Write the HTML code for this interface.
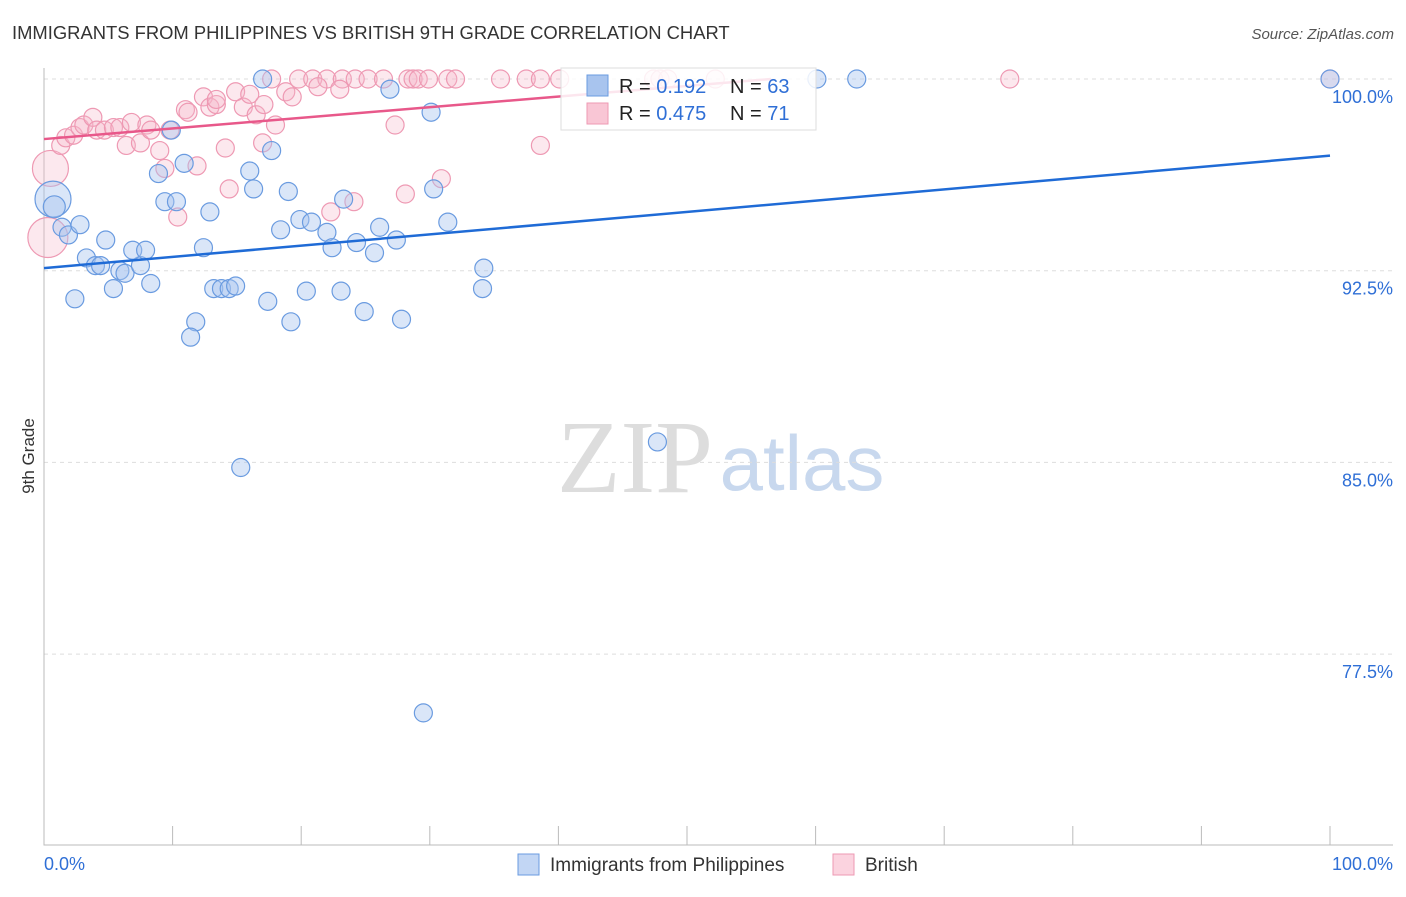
<!DOCTYPE html>
<html><head><meta charset="utf-8"><style>
body{margin:0;background:#fff;font-family:"Liberation Sans",sans-serif}
</style></head><body>
<svg id="c" width="1406" height="892" xmlns="http://www.w3.org/2000/svg" font-family="Liberation Sans, sans-serif">
<text x="12" y="39" font-size="18.4" fill="#333">IMMIGRANTS FROM PHILIPPINES VS BRITISH 9TH GRADE CORRELATION CHART</text>
<text x="1394" y="39" font-size="15" fill="#555" text-anchor="end" font-style="italic">Source: ZipAtlas.com</text>
<text x="34" y="456" font-size="17" fill="#333" text-anchor="middle" transform="rotate(-90 34 456)">9th Grade</text>
<g><text x="635" y="492" font-size="104" fill="#ddd" text-anchor="middle" font-family="Liberation Serif, serif">ZIP</text><text x="802" y="490" font-size="78" fill="#c8d8ee" text-anchor="middle">atlas</text></g>
<g id="grid"></g><g id="pts"></g><g id="lines"></g>
<g>
<rect x="561" y="68" width="255" height="62" fill="#fff" fill-opacity="0.85" stroke="#ddd"/>
<rect x="587" y="75" width="21" height="21" fill="#a8c4ee" stroke="#6a9be0"/>
<rect x="587" y="103" width="21" height="21" fill="#f9c6d5" stroke="#ee99b3"/>
<text x="619" y="93" font-size="20" fill="#222">R = <tspan fill="#2f6fd6">0.192</tspan><tspan x="730">N = </tspan><tspan fill="#2f6fd6">63</tspan></text>
<text x="619" y="120" font-size="20" fill="#222">R = <tspan fill="#2f6fd6">0.475</tspan><tspan x="730">N = </tspan><tspan fill="#2f6fd6"> 71</tspan></text>
</g>
<g>
<rect x="518" y="854" width="21" height="21" fill="#c2d6f4" stroke="#6a9be0"/>
<text x="550" y="871" font-size="19" fill="#333">Immigrants from Philippines</text>
<rect x="833" y="854" width="21" height="21" fill="#fbd3df" stroke="#ee99b3"/>
<text x="865" y="871" font-size="19" fill="#333">British</text>
</g>
</svg>
<script>
const yTicks=[100,92.5,85,77.5];
const yTickLabels=["100.0%","92.5%","85.0%","77.5%"];
const xTickLabels=["0.0%","100.0%"];
const blueX=[0.7,0.8,1.4,1.9,2.8,4.8,3.3,4.0,4.4,5.9,6.3,7.5,6.9,7.9,5.4,2.4,8.3,8.9,10.9,9.9,9.4,10.3,12.9,12.4,13.2,13.8,14.4,14.9,11.8,11.4,15.3,16.0,16.3,17.7,17.0,17.4,18.4,19.0,19.2,19.9,20.4,20.8,22.0,22.4,23.1,23.3,24.3,24.9,25.7,26.1,26.9,27.4,27.8,30.1,30.3,31.4,34.2,34.1,29.5,47.7,60.1,63.2,100];
const blueY=[95.3,95.0,94.2,93.9,94.3,93.7,93.0,92.7,92.7,92.5,92.4,92.7,93.3,93.3,91.8,91.4,92.0,96.3,96.7,98.0,95.2,95.2,94.8,93.4,91.8,91.8,91.8,91.9,90.5,89.9,84.8,96.4,95.7,97.2,100,91.3,94.1,95.6,90.5,94.5,91.7,94.4,94.0,93.4,91.7,95.3,93.6,90.9,93.2,94.2,99.6,93.7,90.6,98.7,95.7,94.4,92.6,91.8,75.2,85.8,100,100,100];
const blueR=[18,11,9,9,9,9,9,9,9,9,9,9,9,9,9,9,9,9,9,9,9,9,9,9,9,9,9,9,9,9,9,9,9,9,9,9,9,9,9,9,9,9,9,9,9,9,9,9,9,9,9,9,9,9,9,9,9,9,9,9,9,9,9];
const pinkX=[0.5,0.3,1.3,1.7,2.3,2.8,3.1,3.8,4.1,4.7,5.4,5.9,6.4,6.8,7.5,8.0,8.3,9.0,9.4,10.4,11.0,11.2,11.9,12.4,12.9,13.4,14.1,14.4,14.9,15.5,16.0,16.5,17.0,17.7,18.0,18.8,19.3,19.8,20.9,22.0,22.3,23.2,23.0,24.2,24.1,25.2,26.4,27.3,28.1,28.3,28.7,29.1,29.9,30.9,31.4,32.0,35.5,37.5,38.6,38.6,40.1,47.4,47.9,48.5,52.2,75.1,100,9.8,13.4,17.1,21.3];
const pinkY=[96.5,93.8,97.4,97.7,97.8,98.1,98.2,98.5,98.0,98.0,98.1,98.1,97.4,98.3,97.5,98.2,98.0,97.2,96.5,94.6,98.8,98.7,96.6,99.3,98.9,99.0,97.3,95.7,99.5,98.9,99.4,98.6,97.5,100,98.2,99.5,99.3,100,100,100,94.8,100,99.6,100,95.2,100,100,98.2,95.5,100,100,100,100,96.1,100,100,100,100,100,97.4,100,100,100,100,100,100,100,98.0,99.2,99.0,99.7];
const pinkR=[18,20,9,9,9,9,9,9,9,9,9,9,9,9,9,9,9,9,9,9,9,9,9,9,9,9,9,9,9,9,9,9,9,9,9,9,9,9,9,9,9,9,9,9,9,9,9,9,9,9,9,9,9,9,9,9,9,9,9,9,9,9,9,9,9,9,9,9,9,9,9];
const blueLine=[92.6,97.0];
const pinkLine=[97.65,0.475];
const NS="http://www.w3.org/2000/svg";
const X=v=>44+v*12.86, Y=v=>79+(100-v)*25.56;
function mk(t,a,p){const e=document.createElementNS(NS,t);for(const k in a)e.setAttribute(k,a[k]);p.appendChild(e);return e;}
const grid=document.getElementById('grid');
yTicks.forEach((t,i)=>{
 const l=mk('line',{x1:44,x2:1393,y1:Y(t),y2:Y(t),stroke:'#ddd','stroke-dasharray':'4,4'},grid);
 
 
 const tx=mk('text',{x:1393,y:Y(t)+24,'font-size':18,fill:'#2f6fd6','text-anchor':'end'},grid);tx.textContent=yTickLabels[i];
 
 
});
const ax=mk('path',{d:'M44 68V845H1393',stroke:'#bbb',fill:'none'},grid);


for(let i=0;i<=10;i++){const t=mk('line',{x1:X(i*10),x2:X(i*10),y1:826,y2:845,stroke:'#bbb'},grid);
 
 }
[[0,'start',44],[100,'end',1393]].forEach((d,i)=>{const t=mk('text',{x:d[2],y:870,'font-size':18,fill:'#2f6fd6','text-anchor':d[1]},grid);t.textContent=xTickLabels[i];
 
 });
const pts=document.getElementById('pts');
pinkX.forEach((x,i)=>{const c=mk('circle',{cx:X(x),cy:Y(pinkY[i]),r:pinkR[i],fill:'#f7b8cb','fill-opacity':0.32,stroke:'#ee99b3','stroke-width':1.2},pts);
 
 });
blueX.forEach((x,i)=>{const c=mk('circle',{cx:X(x),cy:Y(blueY[i]),r:blueR[i],fill:'#a8c4ee','fill-opacity':0.42,stroke:'#6a9be0','stroke-width':1.2},pts);
 
 });
const lines=document.getElementById('lines');
const bl=mk('line',{x1:X(0),y1:Y(blueLine[0]),x2:X(100),y2:Y(blueLine[1]),stroke:'#1f6bd6','stroke-width':2.5},lines);


const xe=Math.min(100,(100-pinkLine[0])/(pinkLine[1]*0.0875));
const pl=mk('line',{x1:X(0),y1:Y(pinkLine[0]),x2:X(xe),y2:Y(Math.min(100,pinkLine[0]+pinkLine[1]*0.0875*xe)),stroke:'#e8588a','stroke-width':2.5},lines);


</script>
</body></html>
